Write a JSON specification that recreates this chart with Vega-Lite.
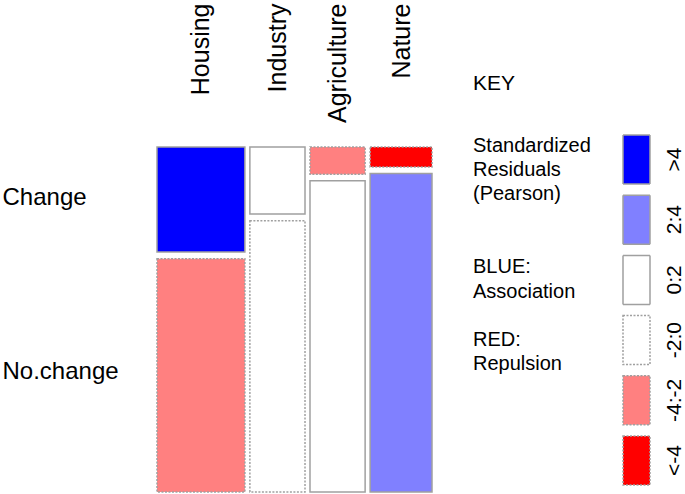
{
  "$schema": "https://vega.github.io/schema/vega-lite/v6.json",
  "width": 275,
  "height": 345,
  "autosize": "none",
  "padding": {"left": 157, "top": 147, "right": 253, "bottom": 2},
  "background": "white",
  "data": {
    "values": [
      {"area": "Housing", "response": "Change", "count": 105, "resid": ">4"},
      {"area": "Housing", "response": "No.change", "count": 233, "resid": "-4:-2"},
      {"area": "Industry", "response": "Change", "count": 42, "resid": "0:2"},
      {"area": "Industry", "response": "No.change", "count": 170, "resid": "-2:0"},
      {"area": "Agriculture", "response": "Change", "count": 17, "resid": "-4:-2"},
      {"area": "Agriculture", "response": "No.change", "count": 195, "resid": "0:2"},
      {"area": "Nature", "response": "Change", "count": 14, "resid": "<-4"},
      {"area": "Nature", "response": "No.change", "count": 224, "resid": "2:4"}
    ]
  },
  "transform": [
    {"window": [{"op": "row_number", "as": "row"}]},
    {"joinaggregate": [{"op": "min", "field": "row", "as": "arow"}], "groupby": ["area"]},
    {"window": [{"op": "dense_rank", "as": "aidx"}], "sort": [{"field": "arow"}]},
    {"window": [{"op": "rank", "as": "ridx"}], "groupby": ["area"], "sort": [{"field": "row"}]},
    {"stack": "count", "groupby": [], "sort": [{"field": "row"}], "as": ["cx0", "cx1"]},
    {"joinaggregate": [{"op": "min", "field": "cx0", "as": "ax0"}, {"op": "max", "field": "cx1", "as": "ax1"}], "groupby": ["area"]},
    {"stack": "count", "groupby": ["area"], "sort": [{"field": "row"}], "offset": "normalize", "as": ["ny0", "ny1"]},
    {"calculate": "datum.ax0 + (datum.aidx - 1) * 19.2", "as": "x0"},
    {"calculate": "datum.ax1 + (datum.aidx - 1) * 19.2", "as": "x1"},
    {"calculate": "datum.ny0 + (datum.ridx - 1) * 0.0198", "as": "y0"},
    {"calculate": "datum.ny1 + (datum.ridx - 1) * 0.0198", "as": "y1"}
  ],
  "encoding": {
    "x": {
      "field": "x0", "type": "quantitative",
      "scale": {"domain": [0, 1057.6], "nice": false, "zero": false},
      "axis": {
        "orient": "top", "title": null, "domain": false, "ticks": false, "tickSize": 0, "grid": false,
        "values": [169, 463.2, 694.4, 938.6],
        "labelExpr": "datum.value < 300 ? 'Housing' : datum.value < 600 ? 'Industry' : datum.value < 850 ? 'Agriculture' : 'Nature'",
        "labelAngle": -90, "labelAlign": "right", "labelBaseline": "middle",
        "labelPadding": 144, "labelFontSize": 25, "labelFont": "Liberation Sans", "labelColor": "black",
        "labelFlush": false, "labelOverlap": false, "labelBound": false, "labelLimit": 300
      }
    },
    "x2": {"field": "x1"},
    "y": {
      "field": "y0", "type": "quantitative",
      "scale": {"domain": [0, 1.0198], "nice": false, "zero": false, "reverse": true},
      "axis": {
        "orient": "left", "title": null, "domain": false, "ticks": false, "tickSize": 0, "grid": false,
        "values": [0.149, 0.665],
        "labelExpr": "datum.value < 0.5 ? 'Change' : 'No.change'",
        "labelAlign": "left", "labelBaseline": "middle", "labelPadding": 155,
        "labelFontSize": 24, "labelFont": "Liberation Sans", "labelColor": "black",
        "labelFlush": false, "labelOverlap": false, "labelBound": false, "labelLimit": 300
      }
    },
    "y2": {"field": "y1"},
    "fill": {
      "field": "resid", "type": "nominal",
      "scale": {"domain": [">4", "2:4", "0:2", "-2:0", "-4:-2", "<-4"], "range": ["#0000ff", "#8080ff", "#ffffff", "#ffffff", "#ff8080", "#ff0000"]},
      "legend": {
        "title": null, "orient": "none", "legendX": 454, "legendY": -13, "padding": 0,
        "symbolType": "M-0.551,-1H0.551V1H-0.551Z", "symbolSize": 2401,
        "symbolStrokeColor": "#a0a0a0", "symbolStrokeWidth": 1.5,
        "rowPadding": 5.2, "labelOffset": 13,
        "labelFontSize": 21, "labelFont": "Liberation Sans", "labelColor": "black",
        "labelAlign": "center", "labelBaseline": "middle",
        "encoding": {
          "labels": {"angle": {"value": -90}},
          "symbols": {"strokeDash": {"condition": {"test": "datum.value === '-2:0' || datum.value === '-4:-2' || datum.value === '<-4'", "value": [2, 1.5]}, "value": [1, 0]}}
        }
      }
    }
  },
  "layer": [
    {
      "transform": [{"filter": "indexof(['>4', '2:4', '0:2'], datum.resid) >= 0"}],
      "mark": {"type": "rect", "stroke": "#a0a0a0", "strokeWidth": 1.5}
    },
    {
      "transform": [{"filter": "indexof(['-2:0', '-4:-2', '<-4'], datum.resid) >= 0"}],
      "mark": {"type": "rect", "stroke": "#a0a0a0", "strokeWidth": 1.5, "strokeDash": [2, 1.5]}
    }
  ],
  "title": {
    "text": "KEY",
    "subtitle": ["Standardized", "Residuals", "(Pearson)", "\u2800", "\u2800", "BLUE:", "Association", "\u2800", "RED:", "Repulsion"],
    "orient": "bottom", "anchor": "start", "frame": "group", "offset": 0,
    "dx": 316, "dy": -420,
    "font": "Liberation Sans", "fontSize": 21, "fontWeight": "normal", "color": "black",
    "subtitleFont": "Liberation Sans", "subtitleFontSize": 20, "subtitleColor": "black",
    "subtitleLineHeight": 24.3, "subtitlePadding": 42
  },
  "config": {"view": {"stroke": null}}
}
